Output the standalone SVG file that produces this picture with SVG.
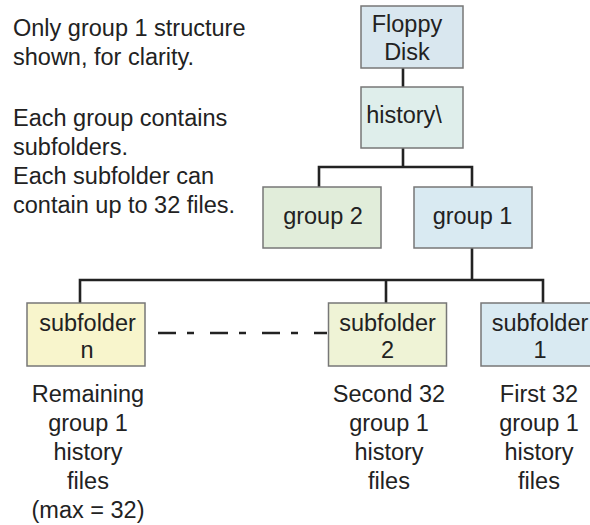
<svg xmlns="http://www.w3.org/2000/svg" width="590" height="525" viewBox="0 0 590 525">
<style>
text{font-family:"Liberation Sans",Arial,sans-serif;font-size:23.5px;fill:#222}
.c{text-anchor:middle}
.box{stroke:#777;stroke-width:1.5}
.ln{stroke:#222;stroke-width:2.6;fill:none}
</style>
<rect width="590" height="525" fill="#fff"/>
<g id="notes">
<text x="13" y="36">Only group 1 structure</text>
<text x="13" y="65">shown, for clarity.</text>
<text x="13" y="126">Each group contains</text>
<text x="13" y="155">subfolders.</text>
<text x="13" y="184">Each subfolder can</text>
<text x="13" y="213">contain up to 32 files.</text>
</g>
<g id="connectors">
<path class="ln" d="M403 68V87M403 148V167M319 187V167H472V187M472 248V280M80 303V280H543V303M386 280V303"/>
<path class="ln" d="M158 333H327" stroke-dasharray="18 11 7 16"/>
</g>
<g id="floppy">
<rect class="box" x="361" y="6" width="102" height="62" fill="#d9e7ef"/>
<text class="c" x="407" y="32">Floppy</text>
<text class="c" x="407" y="60">Disk</text>
</g>
<g id="history">
<rect class="box" x="361" y="87" width="102" height="61" fill="#dfeeeb"/>
<text class="c" x="404" y="123">history\</text>
</g>
<g id="group2">
<rect class="box" x="263" y="187" width="118" height="61" fill="#e1edda"/>
<text class="c" x="323" y="224">group 2</text>
</g>
<g id="group1">
<rect class="box" x="414" y="187" width="118" height="61" fill="#d9eaf2"/>
<text class="c" x="472.5" y="224">group 1</text>
</g>
<g id="subfolder-n">
<rect class="box" x="27" y="303" width="118" height="63" fill="#f8f5cc"/>
<text class="c" x="87.5" y="331">subfolder</text>
<text class="c" x="87" y="358">n</text>
</g>
<g id="subfolder-2">
<rect class="box" x="328.5" y="303" width="118" height="63" fill="#eff3d6"/>
<text class="c" x="387.5" y="331">subfolder</text>
<text class="c" x="387.5" y="358">2</text>
</g>
<g id="subfolder-1">
<rect class="box" x="481" y="303" width="118" height="63" fill="#d9eaf2"/>
<text class="c" x="540" y="331">subfolder</text>
<text class="c" x="540" y="358">1</text>
</g>
<g id="labels">
<text class="c" x="88" y="402">Remaining</text>
<text class="c" x="88" y="431">group 1</text>
<text class="c" x="88" y="460">history</text>
<text class="c" x="88" y="489">files</text>
<text class="c" x="88" y="518">(max = 32)</text>
<text class="c" x="389" y="402">Second 32</text>
<text class="c" x="389" y="431">group 1</text>
<text class="c" x="389" y="460">history</text>
<text class="c" x="389" y="489">files</text>
<text class="c" x="539" y="402">First 32</text>
<text class="c" x="539" y="431">group 1</text>
<text class="c" x="539" y="460">history</text>
<text class="c" x="539" y="489">files</text>
</g>
</svg>
